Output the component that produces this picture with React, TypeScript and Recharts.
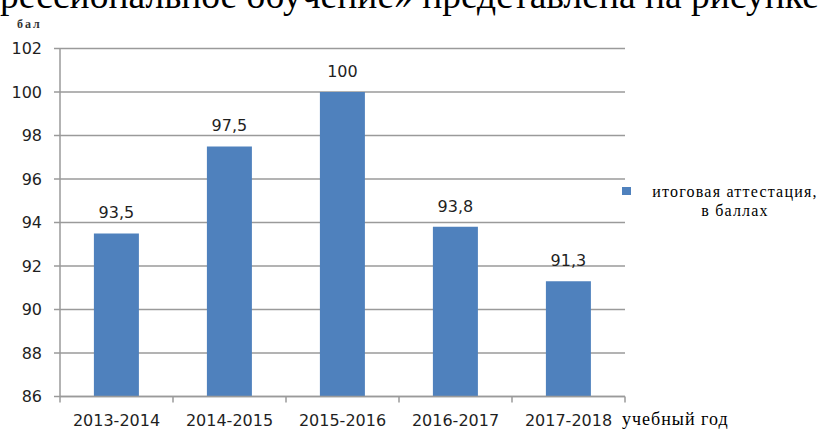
import React from 'react';
import { BarChart, Bar, XAxis, YAxis, CartesianGrid, LabelList, Legend } from 'recharts';

const years = ['2013-2014', '2014-2015', '2015-2016', '2016-2017', '2017-2018'];
const scores = [93.5, 97.5, 100, 93.8, 91.3];
const yTicks = [86, 88, 90, 92, 94, 96, 98, 100, 102];
const seriesName = 'итоговая аттестация, в баллах';
const headerText = 'рессиональное обучение» представлена на рисунке';
const yUnit = 'бал';
const xUnit = 'учебный год';

const data = years.map((year, i) => ({ year, score: scores[i] }));

const W = 826;
const H = 431;
const MARGIN = { top: 48.5, right: 201, bottom: 4.5, left: 0 };
const Y_AXIS_W = 60;
const X_AXIS_H = 30;
const PLOT_W = W - MARGIN.left - MARGIN.right - Y_AXIS_W;
const BAND = PLOT_W / years.length;
const TICK_SIZE = 6;
const TICK_MARGIN = 2;

const GRID = '#9a9a9a';
const BAR = '#4f81bd';
const TEXT = '#1f1f1f';
const NUM_FONT = '"DejaVu Sans", sans-serif';
const SERIF = '"Liberation Serif", "Times New Roman", serif';

const XTick = (props: any) => {
  const { x, y, payload, index } = props;
  const axisY = y - TICK_SIZE - TICK_MARGIN;
  const last = index === years.length - 1;
  return (
    <g>
      <line x1={x - BAND / 2} x2={x - BAND / 2} y1={axisY} y2={axisY + TICK_SIZE} stroke={GRID} strokeWidth={1.5} />
      {last && (
        <line x1={x + BAND / 2} x2={x + BAND / 2} y1={axisY} y2={axisY + TICK_SIZE} stroke={GRID} strokeWidth={1.5} />
      )}
      <text x={x} y={y + 10} dy="0.71em" textAnchor="middle" fill={TEXT} fontSize={16} fontFamily={NUM_FONT}>
        {payload.value}
      </text>
    </g>
  );
};

const renderLegend = (props: any) => {
  const { payload } = props;
  return (
    <div style={{ position: 'relative', width: 211, height: 50 }}>
      {(payload || []).map((entry: any, i: number) => {
        const parts = String(entry.value).split(', ');
        return (
          <div key={i}>
            <div
              style={{
                position: 'absolute',
                left: 7,
                top: 7,
                width: 9,
                height: 8,
                background: entry.color,
              }}
            />
            <div
              style={{
                position: 'absolute',
                left: 30,
                top: 1.5,
                width: 180,
                textAlign: 'center',
                fontFamily: SERIF,
                fontSize: 16,
                lineHeight: '19px',
                letterSpacing: 1.2,
                color: '#000',
                whiteSpace: 'nowrap',
              }}
            >
              <div>{parts[0] + (parts.length > 1 ? ',' : '')}</div>
              {parts.length > 1 && <div>{parts.slice(1).join(', ')}</div>}
            </div>
          </div>
        );
      })}
    </div>
  );
};

export default function App() {
  return (
    <div
      style={{
        position: 'absolute',
        left: 0,
        top: 0,
        width: W,
        height: H,
        overflow: 'hidden',
        background: '#fff',
      }}
    >
      <div
        style={{
          position: 'absolute',
          left: 0,
          top: -23,
          fontFamily: SERIF,
          fontSize: 37.5,
          lineHeight: '37.5px',
          whiteSpace: 'nowrap',
          color: '#000',
        }}
      >
        {headerText}
      </div>
      <div
        style={{
          position: 'absolute',
          left: 17,
          top: 18,
          fontFamily: SERIF,
          fontSize: 12,
          fontWeight: 'bold',
          lineHeight: '12px',
          letterSpacing: 2,
          color: '#333',
        }}
      >
        {yUnit}
      </div>
      <div
        style={{
          position: 'absolute',
          left: 622,
          top: 410,
          fontFamily: SERIF,
          fontSize: 18,
          lineHeight: '18px',
          letterSpacing: 1,
          color: '#000',
          whiteSpace: 'nowrap',
        }}
      >
        {xUnit}
      </div>
      <div style={{ position: 'absolute', left: 0, top: 0 }}>
        <BarChart width={W} height={H} data={data} margin={MARGIN} barCategoryGap="30%">
          <CartesianGrid vertical={false} stroke={GRID} strokeWidth={1.5} />
          <XAxis
            dataKey="year"
            height={X_AXIS_H}
            axisLine={{ stroke: GRID, strokeWidth: 1.5 }}
            tickLine={false}
            tickSize={TICK_SIZE}
            tickMargin={TICK_MARGIN}
            tick={<XTick />}
            interval={0}
          />
          <YAxis
            width={Y_AXIS_W}
            domain={[86, 102]}
            ticks={yTicks}
            interval={0}
            axisLine={{ stroke: GRID, strokeWidth: 1.5 }}
            tickLine={{ stroke: GRID, strokeWidth: 1.5 }}
            tickSize={TICK_SIZE}
            tickMargin={12}
            tick={{ fill: TEXT, fontSize: 16, fontFamily: NUM_FONT }}
          />
          <Legend
            layout="horizontal"
            verticalAlign="middle"
            align="center"
            content={renderLegend}
            wrapperStyle={{ left: 615, top: 180, width: 211, height: 50 }}
          />
          <Bar dataKey="score" name={seriesName} fill={BAR} isAnimationActive={false}>
            <LabelList
              dataKey="score"
              position="top"
              offset={15}
              formatter={(v: any) => String(v).replace('.', ',')}
              fill={TEXT}
              fontSize={16}
              fontFamily={NUM_FONT}
            />
          </Bar>
        </BarChart>
      </div>
    </div>
  );
}
